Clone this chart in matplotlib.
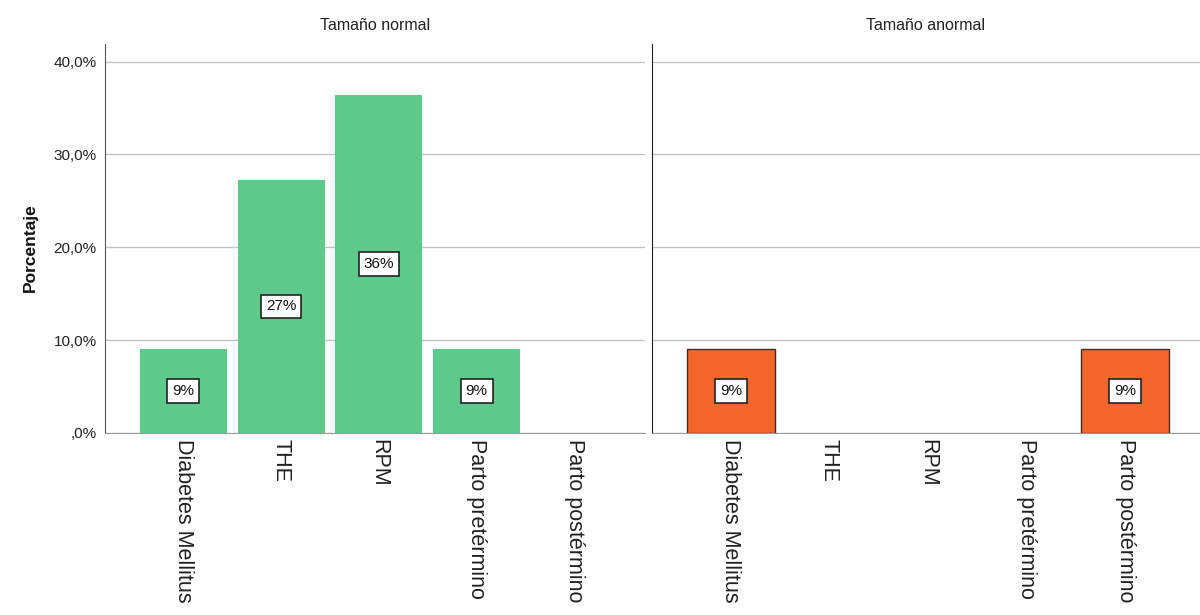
import numpy as np
import matplotlib
matplotlib.use('Agg')
import matplotlib.pyplot as plt
import matplotlib.transforms as mtransforms
from matplotlib.ticker import FuncFormatter

plt.rcParams['font.family'] = ['Liberation Sans', 'DejaVu Sans']

categories = ['Diabetes Mellitus', 'THE', 'RPM', 'Parto pretérmino', 'Parto postérmino']
panels = ['Tamaño normal', 'Tamaño anormal']
normal_pct = [9.09, 27.27, 36.36, 9.09, 0.0]
anormal_pct = [9.09, 0.0, 0.0, 0.0, 9.09]
bar_labels_normal = ['9%', '27%', '36%', '9%', '']
bar_labels_anormal = ['9%', '', '', '', '9%']

fig = plt.figure(figsize=(12, 6.15), dpi=100)
ax1 = fig.add_axes([105 / 1200, 1 - 433 / 615, 540 / 1200, 389 / 615])
ax2 = fig.add_axes([652 / 1200, 1 - 433 / 615, 548 / 1200, 389 / 615])

styles = [
    (ax1, normal_pct, bar_labels_normal, '#5ec98b', 'none', 0),
    (ax2, anormal_pct, bar_labels_anormal, '#f2662b', '#4a2a1e', 1.0),
]


def pct_fmt(v, p):
    s = ('%.1f%%' % v).replace('.', ',')
    return s.lstrip('0') if v == 0 else s


x = np.arange(len(categories))
shift = mtransforms.ScaledTranslation(-5 / 100, 0, fig.dpi_scale_trans)
for i, (ax, vals, labs, col, ec, lw) in enumerate(styles):
    ax.set_axisbelow(True)
    ax.yaxis.grid(True, color='#c4c4c4', linewidth=1.0)
    # SPSS leaves empty categories blank, so only draw non-zero bars
    keep = [k for k, v in enumerate(vals) if v > 0]
    bars = ax.bar(x[keep], [vals[k] for k in keep], width=0.89, color=col,
                  edgecolor=ec, linewidth=lw)
    for b, k in zip(bars, keep):
        if labs[k]:
            ax.text(b.get_x() + b.get_width() / 2, vals[k] / 2, labs[k], ha='center',
                    va='center', fontsize=11, color='#111111',
                    bbox=dict(boxstyle='square,pad=0.32', fc='white', ec='#222222', lw=1.2))
    ax.set_ylim(0, 41.9)
    ax.set_xlim(-0.8, 4.72 if i == 0 else 4.76)
    ax.set_yticks([0, 10, 20, 30, 40])
    ax.set_xticks(x)
    ax.set_xticklabels(categories, rotation=-90, fontsize=15.5, color='#222222')
    for t in ax.get_xticklabels():
        t.set_transform(t.get_transform() + shift)
    ax.tick_params(axis='x', length=0, pad=4)
    ax.tick_params(axis='y', length=0, labelsize=11, pad=6, colors='#222222')
    for s in ['top', 'right']:
        ax.spines[s].set_visible(False)
    ax.spines['bottom'].set_color('#9a9a9a')
    ax.spines['left'].set_color('#555555' if i == 0 else '#222222')
    ax.text(0.5, 1 + 19 / 389, panels[i], transform=ax.transAxes, ha='center',
            va='center', fontsize=11.5, color='#222222')

ax1.yaxis.set_major_formatter(FuncFormatter(pct_fmt))
ax2.set_yticklabels([])

fig.text(30 / 1200, 1 - 248 / 615, 'Porcentaje', rotation=90, ha='center', va='center',
         fontsize=12.5, fontweight='bold', color='#111111')

fig.savefig('out.png', dpi=100)
